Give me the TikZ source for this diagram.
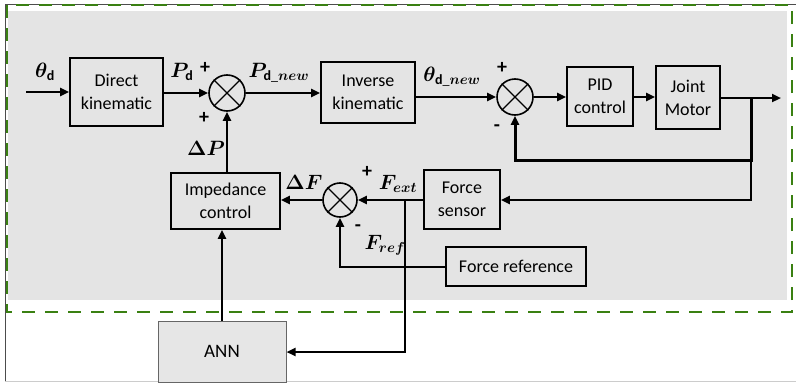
\documentclass[tikz,border=0pt]{standalone}
\usepackage{fontspec}
\setmainfont{Carlito}
\usepackage{amsmath}
\usepackage{bm}
\usetikzlibrary{arrows.meta,calc}
\definecolor{bggray}{RGB}{228,228,228}
\definecolor{dashgreen}{RGB}{58,128,18}
\definecolor{anngray}{RGB}{230,230,230}
\tikzset{
  blk/.style={draw, line width=1.6pt, align=center, inner sep=0pt,
    font=\fontsize{18}{23}\selectfont},
  sumnode/.style={draw, circle, line width=1.6pt, minimum size=36pt, inner sep=0pt},
  sig/.style={line width=2.4pt},
  arr/.style={sig, -{Triangle[length=9pt,width=8pt]}},
  lbl/.style={font=\fontsize{20}{22}\selectfont, inner sep=0pt},
  sgn/.style={font=\fontsize{20}{22}\selectfont\bfseries, inner sep=0pt}
}
\begin{document}
\begin{tikzpicture}[x=1pt,y=-1pt]
\useasboundingbox (0,0) rectangle (796,383);
% outer frame
\draw[gray!40, line width=1pt] (5,381) -- (796,381);
\draw[black!70, line width=1pt] (5,381) -- (5,4) -- (796,4);
% gray background and green dashed frame
\fill[bggray] (8,11) rectangle (787,300);
\draw[dashgreen, line width=2.8pt, dash pattern=on 13pt off 10pt] (7,5) rectangle (792,312);

% blocks
\node[blk, minimum width=93pt, minimum height=68pt] (dk) at (116.5,92) {Direct\\kinematic};
\node[sumnode] (s1) at (227,93) {};
\node[blk, minimum width=94pt, minimum height=61pt] (ik) at (368,92.5) {Inverse\\kinematic};
\node[sumnode] (s2) at (515,97) {};
\node[blk, minimum width=66pt, minimum height=59pt] (pid) at (600,96.5) {PID\\control};
\node[blk, minimum width=64pt, minimum height=63pt] (jm) at (688,97.5) {Joint\\Motor};
\node[blk, minimum width=76pt, minimum height=59pt] (fs) at (462,199.5) {Force\\sensor};
\node[blk, minimum width=140pt, minimum height=39pt] (fr) at (516,266.5) {Force reference};
\node[sumnode, minimum size=34pt] (s3) at (340,200) {};
\node[blk, minimum width=109pt, minimum height=56pt] (imp) at (225.5,201) {Impedance\\control};
\node[draw=gray!80!black, fill=anngray, line width=1pt, minimum width=128pt, minimum height=61pt,
  inner sep=0pt, font=\fontsize{19}{22}\selectfont] (ann) at (222,351.5) {ANN};

% crosses in summing nodes
\foreach \s in {s1,s2,s3}{
  \draw[line width=1.4pt] (\s.north west) -- (\s.south east) (\s.north east) -- (\s.south west);
}

% coordinates
\coordinate (in) at (26,92);
\coordinate (out) at (781,98);
\coordinate (j1) at (751,98);
\coordinate (j2) at (751,160);
\coordinate (j3) at (751,200);
\coordinate (jf) at (405,200);
\coordinate (jfd) at (405,352);
\coordinate (rf) at (340,267);

% forward path
\draw[arr] (in) -- (dk.west |- in);
\draw[arr] (dk.east |- s1.west) -- (s1.west);
\draw[arr] (s1.east) -- (ik.west |- s1.east);
\draw[arr] (ik.east |- s2.west) -- (s2.west);
\draw[arr] (s2.east) -- (pid.west |- s2.east);
\draw[arr] (pid.east |- s2.east) -- (jm.west |- s2.east);
\draw[arr] (jm.east |- out) -- (out);

% feedback loops
\draw[arr, line width=3pt] (j1) -- (j2) -- (s2.south |- j2) -- (s2.south);
\draw[arr] (j2) -- (j3) -- (fs.east |- j3);
\draw[arr] (fs.west |- s3.east) -- (s3.east);
\draw[arr] (s3.west) -- (imp.east |- s3.west);
\draw[arr] (fr.west |- rf) -- (rf) -- (s3.south);
\draw[arr] (imp.north -| s1.south) -- (s1.south);
\draw[arr] (ann.north) -- (ann.north |- imp.south);
\draw[arr] (jf) -- (jfd) -- (ann.east |- jfd);

% labels
\node[lbl] (lth) at (45,72) {$\bm{\theta}_{\mathbf{d}}$};
\node[lbl] (lpd) at (182,72) {$\bm{P}_{\mathbf{d}}$};
\node[sgn] (p1) at (205,68) {+};
\node[sgn] (p2) at (204,118) {+};
\node[lbl] (ldp) at (206,148) {$\bm{\Delta P}$};
\node[lbl] (lpn) at (279,73) {$\bm{P}_{\mathbf{d}\_\bm{new}}$};
\node[lbl] (ltn) at (452,77) {$\bm{\theta}_{\mathbf{d}\_\bm{new}}$};
\node[sgn] (p3) at (502,68) {+};
\node[sgn] (m1) at (497,128) {-};
\node[lbl] (ldf) at (304,182) {$\bm{\Delta F}$};
\node[sgn] (p4) at (367,172) {+};
\node[lbl] (lfe) at (398,184) {$\bm{F_{ext}}$};
\node[sgn] (m2) at (358,228) {-};
\node[lbl] (lfr) at (385,245) {$\bm{F_{ref}}$};
\end{tikzpicture}
\end{document}
